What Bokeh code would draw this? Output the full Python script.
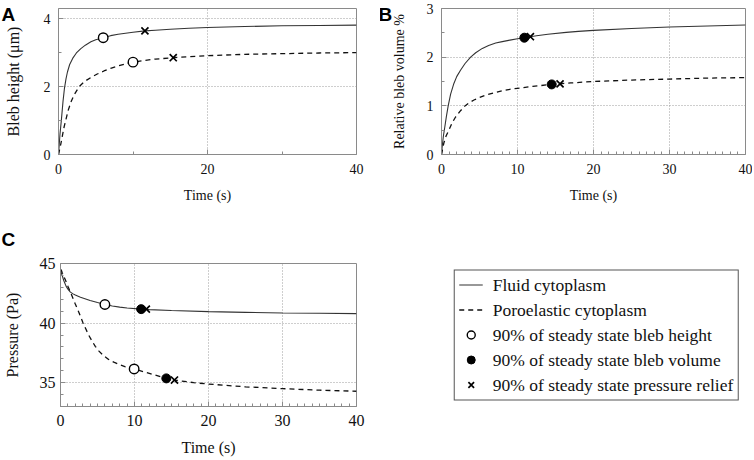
from bokeh.plotting import figure
from bokeh.layouts import column, row
from bokeh.models import Range1d, FixedTicker, Legend, LegendItem, ColumnDataSource
from bokeh.embed import file_html
from bokeh.resources import INLINE

# ---------------- data ----------------
# Panel A: bleb height (um)
a_fluid_t = [0, 0.1, 0.2, 0.4, 0.6, 0.8, 1.0, 1.2, 1.5, 1.9, 2.4, 3.0, 3.6, 4.35, 5.0, 6.0, 7.0, 8.0, 9.0, 10.0, 11.6, 13, 15, 17.5, 20, 25, 30, 35, 40]
a_fluid_h = [0, 0.3, 0.6, 1.05, 1.55, 1.95, 2.22, 2.43, 2.65, 2.83, 2.99, 3.12, 3.22, 3.32, 3.38, 3.44, 3.50, 3.54, 3.57, 3.60, 3.64, 3.66, 3.69, 3.72, 3.74, 3.77, 3.79, 3.80, 3.81]
a_poro_t = [0, 0.3, 0.76, 1.3, 1.7, 2.1, 2.78, 3.5, 4.35, 5.2, 6.1, 7.0, 7.9, 9.0, 10.0, 11.5, 13, 15.4, 17.5, 20, 25, 30, 35, 40]
a_poro_h = [0, 0.3, 0.82, 1.3, 1.56, 1.76, 2.0, 2.15, 2.27, 2.37, 2.46, 2.54, 2.60, 2.67, 2.72, 2.77, 2.81, 2.85, 2.88, 2.91, 2.95, 2.97, 2.99, 3.00]
a_circle_t = [6.0, 10.0]
a_circle_h = [3.44, 2.72]
a_cross_t = [11.6, 15.4]
a_cross_h = [3.64, 2.85]

# Panel B: relative bleb volume (%)
b_fluid_t = [0, 0.1, 0.25, 0.44, 0.65, 0.88, 1.2, 1.63, 2.0, 2.5, 3.1, 3.83, 4.5, 5.37, 6.2, 7.13, 8.0, 9.0, 10.0, 10.9, 12.5, 14, 16.4, 18, 20, 25, 30, 35, 40]
b_fluid_v = [0, 0.18, 0.38, 0.57, 0.79, 1.0, 1.24, 1.46, 1.6, 1.73, 1.87, 2.0, 2.09, 2.18, 2.24, 2.29, 2.32, 2.35, 2.38, 2.40, 2.44, 2.47, 2.51, 2.53, 2.55, 2.59, 2.62, 2.64, 2.66]
b_poro_t = [0, 0.3, 0.6, 0.97, 1.4, 1.85, 2.4, 2.95, 3.6, 4.27, 5.0, 5.8, 7.0, 8.0, 9.0, 10.0, 12.0, 14.5, 17, 20, 25, 30, 35, 40]
b_poro_v = [0, 0.23, 0.38, 0.5, 0.65, 0.77, 0.88, 0.98, 1.06, 1.12, 1.17, 1.22, 1.27, 1.31, 1.34, 1.36, 1.40, 1.44, 1.47, 1.50, 1.53, 1.55, 1.57, 1.58]
b_dot_t = [10.9, 14.5]
b_dot_v = [2.40, 1.44]
b_cross_t = [11.7, 15.6]
b_cross_v = [2.42, 1.45]

# Panel C: pressure (Pa)
c_fluid_t = [0, 0.25, 0.45, 0.75, 1.0, 1.34, 1.7, 2.0, 2.7, 3.5, 4.0, 5.0, 6.0, 7.0, 8.0, 9.0, 10.9, 12, 15, 20, 25, 30, 35, 40]
c_fluid_p = [44.4, 43.95, 43.55, 43.1, 42.85, 42.6, 42.45, 42.35, 42.16, 42.0, 41.9, 41.72, 41.56, 41.44, 41.34, 41.27, 41.17, 41.13, 41.05, 40.96, 40.9, 40.85, 40.82, 40.79]
c_poro_t = [0, 0.1, 0.22, 0.5, 1.0, 1.34, 2.0, 2.46, 3.05, 3.8, 4.3, 4.7, 5.2, 5.8, 6.5, 7.2, 8.0, 8.7, 9.95, 12, 14.3, 15.4, 18, 20, 25, 30, 35, 40]
c_poro_p = [44.5, 44.45, 44.25, 43.85, 43.1, 42.6, 41.6, 40.93, 40.0, 39.0, 38.45, 38.05, 37.65, 37.28, 36.95, 36.72, 36.5, 36.35, 36.15, 35.78, 35.36, 35.22, 35.0, 34.88, 34.65, 34.5, 34.37, 34.28]
c_circle_t = [6.0, 9.95]
c_circle_p = [41.56, 36.15]
c_dot_t = [10.9, 14.3]
c_dot_p = [41.17, 35.36]
c_cross_t = [11.6, 15.4]
c_cross_p = [41.17, 35.22]

legend_labels = ["Fluid cytoplasm", "Poroelastic cytoplasm",
                 "90% of steady state bleb height",
                 "90% of steady state bleb volume",
                 "90% of steady state pressure relief"]

# ---------------- styling ----------------
SERIF = "Liberation Serif"
SANS = "Liberation Sans"
AX_GREY = "#8a8a8a"
GRID_GREY = "#9c9c9c"
SOLID_C = "#333333"
DASH_C = "#111111"
DASH = "5 4"


def make_fig(width, height, mb, xr, yr, xt, xmin, yt, ymin, xlabel, ylabel, fs, yfs,
             tick_sx, lab_sx, tick_sy, lab_sy):
    p = figure(width=width, height=height, output_backend="svg", toolbar_location=None,
               x_range=Range1d(*xr), y_range=Range1d(*yr),
               min_border_left=mb[0], min_border_right=mb[1],
               min_border_top=mb[2], min_border_bottom=mb[3])
    p.background_fill_color = "white"
    p.border_fill_color = "white"
    p.outline_line_color = AX_GREY
    p.outline_line_alpha = 1.0
    p.outline_line_width = 1
    p.xaxis.ticker = FixedTicker(ticks=xt, minor_ticks=xmin)
    p.yaxis.ticker = FixedTicker(ticks=yt, minor_ticks=ymin)
    p.xgrid.ticker = FixedTicker(ticks=[t for t in xt if t not in (xr[0], xr[1])])
    p.ygrid.ticker = FixedTicker(ticks=[t for t in yt if t not in (yr[0], yr[1])])
    for g in (p.xgrid, p.ygrid):
        g.grid_line_color = GRID_GREY
        g.grid_line_dash = "1 2"
        g.grid_line_width = 1
    for ax in (p.xaxis, p.yaxis):
        ax.axis_line_color = AX_GREY
        ax.major_tick_line_color = AX_GREY
        ax.minor_tick_line_color = AX_GREY
        ax.major_tick_in = 5
        ax.major_tick_out = 0
        ax.minor_tick_in = 3
        ax.minor_tick_out = 0
        ax.major_label_text_font = SERIF
        ax.major_label_text_font_size = f"{fs}px"
        ax.major_label_text_color = "#111111"
        ax.axis_label_text_font = SERIF
        ax.axis_label_text_font_style = "normal"
        ax.axis_label_text_color = "#111111"
    p.xaxis.axis_label_text_font_size = f"{fs}px"
    p.yaxis.axis_label_text_font_size = f"{yfs}px"
    p.xaxis.axis_label = xlabel
    p.yaxis.axis_label = ylabel
    p.xaxis.major_label_standoff = tick_sx
    p.xaxis.axis_label_standoff = lab_sx
    p.yaxis.major_label_standoff = tick_sy
    p.yaxis.axis_label_standoff = lab_sy
    return p


def letter(p, text, offset, standoff):
    t = p.title
    t.text = text
    t.align = "left"
    t.vertical_align = "bottom"
    t.offset = offset
    t.standoff = standoff
    t.text_font = SANS
    t.text_font_style = "bold"
    t.text_font_size = "19px"
    t.text_color = "black"


def curve_pair(p, t1, y1, t2, y2):
    p.line(t1, y1, line_color=SOLID_C, line_width=1.1)
    p.line(t2, y2, line_color=DASH_C, line_width=1.3, line_dash=DASH)


def circles(p, t, y):
    p.scatter(t, y, marker="circle", size=9.5, fill_color="white", line_color="black", line_width=1.4)


def dots(p, t, y):
    p.scatter(t, y, marker="circle", size=9, fill_color="black", line_color="black", line_width=1)


def crosses(p, t, y):
    p.scatter(t, y, marker="x", size=10, line_color="black", line_width=1.7)


# ---------------- panel A ----------------
pA = make_fig(380, 212, (58, 24, 8, 58), (0, 40), (0, 4.3),
              [0, 20, 40], [10, 30], [0, 2, 4], [1, 3],
              "Time (s)", "Bleb height (μm)", 14, 16, 9, 11, 8, 19)
curve_pair(pA, a_fluid_t, a_fluid_h, a_poro_t, a_poro_h)
circles(pA, a_circle_t, a_circle_h)
crosses(pA, a_cross_t, a_cross_h)
letter(pA, "A", -57, -32)

# ---------------- panel B ----------------
pB = make_fig(372, 212, (61, 7, 8, 58), (0, 40), (0, 3),
              [0, 10, 20, 30, 40], [i for i in range(1, 40) if i % 10],
              [0, 1, 2, 3], [0.5, 1.5, 2.5],
              "Time (s)", "Relative bleb volume %", 14, 14, 9, 11, 8, 17)
curve_pair(pB, b_fluid_t, b_fluid_v, b_poro_t, b_poro_v)
dots(pB, b_dot_t, b_dot_v)
crosses(pB, b_cross_t, b_cross_v)
letter(pB, "B", -63, -32)

# ---------------- panel C ----------------
pC = make_fig(380, 246, (58, 24, 51, 50), (0, 40), (33, 45),
              [0, 10, 20, 30, 40], [i for i in range(1, 40) if i % 10],
              [35, 40, 45], [i for i in range(33, 45) if i % 5],
              "Time (s)", "Pressure (Pa)", 16, 16, 8, 10, 5, 16)
curve_pair(pC, c_fluid_t, c_fluid_p, c_poro_t, c_poro_p)
circles(pC, c_circle_t, c_circle_p)
dots(pC, c_dot_t, c_dot_p)
crosses(pC, c_cross_t, c_cross_p)
letter(pC, "C", -59, 27)

# ---------------- legend panel ----------------
pL = figure(width=372, height=246, output_backend="svg", toolbar_location=None,
            x_range=Range1d(0, 1), y_range=Range1d(0, 1),
            x_axis_location=None, y_axis_location=None,
            min_border_left=60, min_border_right=0, min_border_top=44, min_border_bottom=42)
pL.outline_line_color = None
pL.xgrid.visible = False
pL.ygrid.visible = False
pL.background_fill_color = "white"
pL.border_fill_color = "white"
# legend-only renderers: their points lie outside the (0, 1) ranges, so only the legend shows them
off = ColumnDataSource(data=dict(x=[-5, -4], y=[-5, -5]))
r1 = pL.line("x", "y", source=off, line_color=SOLID_C, line_width=1.1)
r2 = pL.line("x", "y", source=off, line_color=DASH_C, line_width=1.3, line_dash=DASH)
r3 = pL.scatter("x", "y", source=off, marker="circle", size=9, fill_color="white", line_color="black", line_width=1.4)
r4 = pL.scatter("x", "y", source=off, marker="circle", size=8.5, fill_color="black", line_color="black")
r5 = pL.scatter("x", "y", source=off, marker="x", size=9, line_color="black", line_width=1.7)
items = [LegendItem(label=lab, renderers=[r], index=0) for lab, r in zip(legend_labels, [r1, r2, r3, r4, r5])]
leg = Legend(items=items, location="center", orientation="vertical",
             label_text_font=SERIF, label_text_font_size="17.5px", label_text_color="#111111",
             glyph_width=24, glyph_height=20, label_height=20, label_standoff=10,
             spacing=4, padding=4, margin=0,
             border_line_color="#555555", border_line_width=1, border_line_alpha=1.0,
             background_fill_color="white", background_fill_alpha=1.0)
pL.add_layout(leg)

layout = column(row(pA, pB), row(pC, pL))
open("out.html", "w").write(file_html(layout, INLINE))
